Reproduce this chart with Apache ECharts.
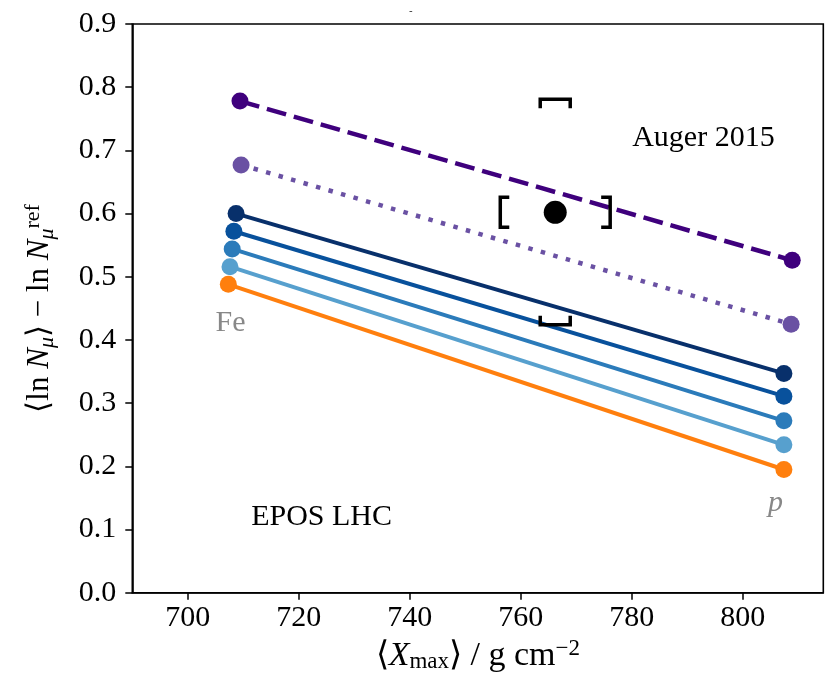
<!DOCTYPE html>
<html>
<head>
<meta charset="utf-8">
<script src="https://cdn.jsdelivr.net/npm/echarts@6/dist/echarts.min.js"></script>
<style>
html, body { margin: 0; padding: 0; background: #fff; }
#container { width: 825px; height: 686px; }
</style>
</head>
<body>
<div id="container"></div>
<script>
// data: one line per model, Fe end (left) and p end (right)
var feX = [709.4, 709.6, 708.7, 708.3, 708.0, 707.6, 707.3];
var feY = [0.778, 0.677, 0.600, 0.572, 0.544, 0.516, 0.488];
var pX = [808.9, 808.7, 807.4, 807.4, 807.4, 807.4, 807.4];
var pY = [0.526, 0.425, 0.347, 0.311, 0.272, 0.234, 0.195];
var lineColors = ['#3f007d', '#6a51a3', '#08306b', '#08519c', '#2b7bba', '#57a0ce', '#ff7f0e'];
var lineTypes = ['dashed', 'dotted', 'solid', 'solid', 'solid', 'solid', 'solid'];

// Auger 2015 point: x, y, sys x low/high, sys y low/high
var auger = [766.2, 0.602, 756.3, 776.1, 0.424, 0.781];

var xTicks = [700, 720, 740, 760, 780, 800];

// text annotations
var notes = [
    {name: 'Fe', value: [707.7, 0.426], color: '#888888', italic: false},
    {name: 'p', value: [805.9, 0.141], color: '#888888', italic: true},
    {name: 'Auger 2015', value: [792.9, 0.719], color: '#000000', italic: false},
    {name: 'EPOS LHC', value: [724.1, 0.120], color: '#000000', italic: false}
];

var serif = 'Liberation Serif';
var dom = document.getElementById('container');
var myChart = echarts.init(dom);

var series = [];
for (var i = 0; i < feX.length; i++) {
    var lt = 'solid', w = 4;
    if (lineTypes[i] == 'dashed') { lt = [20, 8]; w = 4.5; }
    if (lineTypes[i] == 'dotted') { lt = [4.5, 8.5]; w = 4.5; }
    series.push({
        type: 'line',
        data: [[feX[i], feY[i]], [pX[i], pY[i]]],
        symbol: 'circle',
        symbolSize: 17,
        showSymbol: true,
        animation: false,
        itemStyle: {color: lineColors[i], opacity: 1},
        lineStyle: {color: lineColors[i], width: w, type: lt, cap: 'butt'},
        z: 2
    });
}

// systematic brackets
series.push({
    type: 'custom',
    animation: false,
    z: 5,
    data: [auger],
    renderItem: function (params, api) {
        var c = api.coord([api.value(0), api.value(1)]);
        var xl = api.coord([api.value(2), api.value(1)])[0];
        var xh = api.coord([api.value(3), api.value(1)])[0];
        var yl = api.coord([api.value(0), api.value(4)])[1];
        var yh = api.coord([api.value(0), api.value(5)])[1];
        var h = 15, leg = 9;
        var st = {stroke: '#000', lineWidth: 3.5, fill: null, lineJoin: 'miter'};
        return {
            type: 'group',
            children: [
                {type: 'polyline', shape: {points: [[xl + leg, c[1] - h], [xl, c[1] - h], [xl, c[1] + h], [xl + leg, c[1] + h]]}, style: st},
                {type: 'polyline', shape: {points: [[xh - leg, c[1] - h], [xh, c[1] - h], [xh, c[1] + h], [xh - leg, c[1] + h]]}, style: st},
                {type: 'polyline', shape: {points: [[c[0] - h, yh + leg], [c[0] - h, yh], [c[0] + h, yh], [c[0] + h, yh + leg]]}, style: st},
                {type: 'polyline', shape: {points: [[c[0] - h, yl - leg], [c[0] - h, yl], [c[0] + h, yl], [c[0] + h, yl - leg]]}, style: st}
            ]
        };
    }
});

series.push({
    type: 'scatter',
    data: [[auger[0], auger[1]]],
    symbol: 'circle',
    symbolSize: 23,
    animation: false,
    itemStyle: {color: '#000', opacity: 1},
    z: 6
});

series.push({
    type: 'scatter',
    symbolSize: 0,
    animation: false,
    silent: true,
    itemStyle: {opacity: 1},
    data: notes.map(function (n) {
        return {
            name: n.name, value: n.value,
            label: {
                show: true, position: 'inside', formatter: '{b}',
                color: n.color, opacity: 1, fontFamily: serif, fontSize: 30,
                fontStyle: n.italic ? 'italic' : 'normal'
            }
        };
    })
});

myChart.setOption({
    animation: false,
    title: {
        text: '-', left: 404, top: 0,
        textStyle: {fontSize: 11, color: '#333', fontWeight: 'normal'}
    },
    grid: {
        left: 132.3, right: 1.7, top: 24, bottom: 93.3,
        show: true, borderColor: '#000', borderWidth: 1.6
    },
    xAxis: {
        type: 'value',
        min: 690,
        max: 814.5,
        splitLine: {show: false},
        axisLine: {onZero: false, lineStyle: {color: '#000', width: 1.6}},
        axisTick: {show: true, customValues: xTicks, length: 7, lineStyle: {color: '#000', width: 1.5}},
        axisLabel: {customValues: xTicks, color: '#000', fontFamily: serif, fontSize: 30, margin: 10},
        name: '⟨{it|X}{sub|max}⟩ / g cm{sup|−2}',
        nameLocation: 'middle',
        nameGap: 44,
        nameTextStyle: {
            color: '#000', fontFamily: serif, fontSize: 34,
            rich: {
                it: {fontFamily: serif, fontSize: 34, fontStyle: 'italic', color: '#000'},
                sub: {fontFamily: serif, fontSize: 23, color: '#000', verticalAlign: 'bottom', padding: [13, 0, 0, 0]},
                sup: {fontFamily: serif, fontSize: 23, color: '#000', verticalAlign: 'top', padding: [0, 0, 13, 0]}
            }
        }
    },
    yAxis: {
        type: 'value',
        min: 0,
        max: 0.9,
        interval: 0.1,
        splitLine: {show: false},
        axisLine: {show: true, lineStyle: {color: '#000', width: 1.6}},
        axisTick: {show: true, length: 7, lineStyle: {color: '#000', width: 1.5}},
        axisLabel: {
            color: '#000', fontFamily: serif, fontSize: 30, margin: 16,
            formatter: function (v) { return v.toFixed(1); }
        },
        name: '⟨ln {it|N}{sub|μ}⟩ − ln {it|N}{sub|μ}{sup|ref}',
        nameLocation: 'middle',
        nameGap: 74,
        nameTextStyle: {
            color: '#000', fontFamily: serif, fontSize: 31,
            rich: {
                it: {fontFamily: serif, fontSize: 31, fontStyle: 'italic', color: '#000'},
                sub: {fontFamily: serif, fontSize: 22, fontStyle: 'italic', color: '#000', verticalAlign: 'bottom', padding: [12, 0, 0, 0]},
                sup: {fontFamily: serif, fontSize: 22, color: '#000', verticalAlign: 'top', padding: [0, 0, 14, 0]}
            }
        }
    },
    series: series
});
</script>
</body>
</html>
